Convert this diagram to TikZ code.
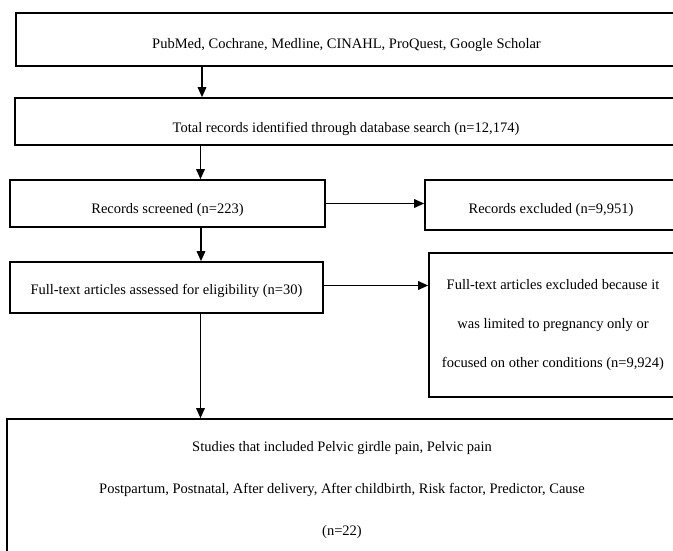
\documentclass[tikz,border=0pt]{standalone}
\usepackage{fontspec}
\setmainfont{Liberation Serif}
\usetikzlibrary{arrows.meta,calc}
\begin{document}
\begin{tikzpicture}[x=1pt,y=-1pt,
  box/.style={draw=black,line width=1.6pt,inner sep=0pt,align=center,font=\fontsize{14.5}{17}\selectfont},
  lowered/.style={text height=#1,text depth=3pt},
  arr/.style={draw=black,line width=1.6pt,-{Triangle[length=10pt,width=8.5pt]}}]
\useasboundingbox (0,0) rectangle (673,551);
\clip (0,0) rectangle (673,551);
\node[box,lowered=21pt,minimum width=661pt,minimum height=53pt] (b1) at (346.5,39.5) {PubMed, Cochrane, Medline, CINAHL, ProQuest, Google Scholar};
\node[box,lowered=24pt,minimum width=662pt,minimum height=47pt] (b2) at (346,121.5) {Total records identified through database search (n=12,174)};
\node[box,lowered=23pt,minimum width=315pt,minimum height=47pt] (b3) at (167.5,203.5) {Records screened (n=223)};
\node[box,lowered=20pt,minimum width=252pt,minimum height=50pt] (b4) at (551,205) {Records excluded (n=9,951)};
\node[box,lowered=16pt,minimum width=313pt,minimum height=51pt] (b5) at (166.5,287.5) {Full-text articles assessed for eligibility (n=30)};
\node[box,minimum width=248pt,minimum height=144pt,font=\fontsize{14.5}{39}\selectfont] (b6) at (553,325) {Full-text articles excluded because it\\was limited to pregnancy only or\\focused on other conditions (n=9,924)};
\node[box,minimum width=670pt,minimum height=142pt,font=\fontsize{14.5}{42}\selectfont] (b7) at (342,490) {Studies that included Pelvic girdle pain, Pelvic pain\\Postpartum, Postnatal, After delivery, After childbirth, Risk factor, Predictor, Cause\\(n=22)};
\coordinate (ax1) at (202,0);
\coordinate (ax2) at (200.5,0);
\coordinate (ax3) at (201,0);
\coordinate (ax4) at (200.5,0);
\draw[arr] (b1.south -| ax1) -- (b2.north -| ax1);
\draw[arr] (b2.south -| ax2) -- (b3.north -| ax2);
\draw[arr] (b3.south -| ax3) -- (b5.north -| ax3);
\draw[arr] (b5.south -| ax4) -- (b7.north -| ax4);
\draw[arr] (b3.east) -- (b3.east -| b4.west);
\draw[arr] ($(b5.east)+(0,-2)$) -- ($(b5.east -| b6.west)+(0,-2)$);
\end{tikzpicture}
\end{document}
